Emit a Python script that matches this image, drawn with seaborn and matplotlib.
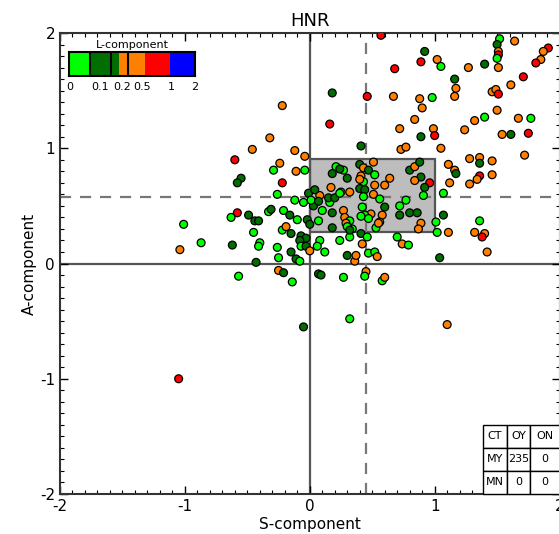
import matplotlib
matplotlib.use('Agg')
import matplotlib.pyplot as plt
import seaborn as sns
import pandas as pd
from matplotlib.patches import Rectangle
from matplotlib.ticker import MultipleLocator

# ---------------- data ----------------
s_comp = [0.57,1.52,1.50,1.64,1.51,1.51,1.50,1.51,1.91,1.87,1.85,1.81,0.92,1.02,1.05,0.89,0.68,1.27,1.40,1.16,
          1.17,1.16,1.71,1.61,1.46,1.49,1.51,0.67,0.88,0.98,0.90,1.50,0.84,1.32,1.40,1.67,1.77,0.72,0.99,1.00,
          0.89,1.24,1.54,1.61,1.75,0.73,0.77,1.05,1.72,1.28,1.36,1.36,1.46,1.11,1.16,1.17,1.36,1.34,1.46,1.12,1.28,
          0.18,0.46,-0.22,0.16,-0.32,-0.46,-0.12,0.41,-0.04,-0.60,
          0.96,1.07,1.07,1.01,1.02,1.11,1.36,1.32,1.40,1.38,1.42,1.04,
          -0.24,-0.29,-0.11,-0.22,-0.26,-0.12,-0.21,-0.10,-0.16,-0.22,-0.19,-0.15,
          -0.55,-0.58,-0.58,-0.63,-0.49,-0.44,-0.41,-0.33,-0.31,-1.01,-0.45,-0.40,-0.41,-0.87,-1.04,-0.62,
          -0.07,-0.03,-0.08,-0.07,-0.26,-0.03,0.00,-0.25,-0.15,-0.11,-0.08,0.08,0.06,0.12,
          -0.25,-0.21,-0.14,0.07,0.09,0.27,0.45,0.44,0.58,0.60,0.32,-0.05,1.10,-0.43,-0.57,-1.05,
          0.53,0.34,0.41,0.46,0.32,0.24,0.42,0.70,0.74,0.79,0.30,0.47,0.52,0.54,0.36,0.37,
          0.21,0.40,0.51,0.27,0.18,0.43,0.47,0.52,0.41,0.64,0.52,0.60,0.43,0.40,0.17,0.25,0.32,
          0.80,0.84,0.88,0.89,0.84,0.92,0.91,0.51,0.44,0.43,0.56,0.60,0.42,0.49,0.44,0.47,0.58,0.56,0.55,0.77,
          0.72,0.72,0.80,0.86,0.89,0.87,
          0.27,0.18,0.10,0.07,0.28,0.32,0.29,-0.04,-0.01,-0.05,0.08,0.03,-0.02,0.01,0.04,
          0.07,0.00,0.16,0.15,0.20,0.24,0.24,0.30,0.40,
          0.30,0.32,0.41,0.18]

a_comp = [1.98,1.95,1.90,1.93,1.84,1.81,1.78,1.70,1.87,1.84,1.77,1.74,1.84,1.77,1.71,1.75,1.69,1.70,1.73,1.60,
          1.52,1.45,1.62,1.55,1.49,1.51,1.47,1.45,1.43,1.44,1.35,1.33,1.25,1.24,1.27,1.26,1.26,1.17,1.17,1.11,
          1.10,1.16,1.12,1.12,1.13,0.99,1.01,1.00,0.94,0.91,0.92,0.87,0.89,0.86,0.81,0.78,0.76,0.73,0.77,0.70,0.69,
          1.48,1.45,1.37,1.21,1.09,0.99,0.98,1.02,0.93,0.90,
          0.70,0.61,0.42,0.36,0.27,0.27,0.37,0.27,0.26,0.23,0.10,0.05,
          0.87,0.81,0.80,0.70,0.60,0.55,0.46,0.38,0.42,0.29,0.32,0.26,
          0.74,0.70,0.44,0.40,0.42,0.37,0.37,0.45,0.47,0.34,0.27,0.18,0.15,0.18,0.12,0.16,
          0.24,0.22,0.20,0.15,0.14,0.15,0.11,0.05,0.10,0.04,0.02,0.20,0.15,0.10,
          -0.06,-0.08,-0.16,-0.09,-0.10,-0.12,-0.07,-0.11,-0.15,-0.12,-0.48,-0.55,-0.53,0.01,-0.11,-1.00,
          0.31,0.30,0.26,0.23,0.23,0.20,0.17,0.23,0.17,0.16,0.07,0.09,0.10,0.06,0.02,0.07,
          0.84,0.86,0.88,0.81,0.78,0.83,0.81,0.77,0.76,0.74,0.68,0.68,0.71,0.65,0.66,0.62,0.62,
          0.81,0.84,0.88,0.75,0.72,0.66,0.59,0.60,0.64,0.58,0.56,0.49,0.49,0.43,0.42,0.39,0.42,0.36,0.35,0.55,
          0.50,0.42,0.44,0.44,0.35,0.30,
          0.46,0.44,0.46,0.37,0.40,0.37,0.35,0.81,0.61,0.53,0.59,0.50,0.38,0.55,0.64,
          0.54,0.34,0.53,0.57,0.57,0.61,0.82,0.74,0.73,
          0.32,0.29,0.41,0.31]

# L-component class of each point: L = 0-0.1, D = 0.1-0.2, O = 0.2-0.5, R = 0.5-1
l_class = ("RLDOORLOROORDOLRRODDOOROOOROOLOOOOLOLOORDOODROOOOOODOOODROOOO"
           "DROROOODOR"
           "RLDLLOLOOROD"
           "OLORLLLLDLOD"
           "DDRLDDDLDLLLLLOD"
           "DDDLLDOLDDLLLL"
           "ODLDDLOLLOLDODLR"
           "LLDLLLOLOLDLLOOO"
           "LDOLDODLOOOOLDOOO"
           "DODDODLODLLDLOLLOOOLLDDDOO"
           "ODLLOLOLDLODDLD"
           "DDLDDLDDO"
           "LDLD")

class_names = {'L': '0-0.1', 'D': '0.1-0.2', 'O': '0.2-0.5', 'R': '0.5-1'}
palette = {'0-0.1': '#00ff00', '0.1-0.2': '#006e00', '0.2-0.5': '#ff8000', '0.5-1': '#ff0000'}

cbar_labels = ['0', '0.1', '0.2', '0.5', '1', '2']
cbar_colors = ['#00ff00', '#006e00', '#ff8000', '#ff0000', '#0000ff']

table_header = ['CT', 'OY', 'ON']
table_row_my = ['MY', '235', '0']
table_row_mn = ['MN', '0', '0']

s_split = 0.45
a_split = 0.577
box_s = [0.0, 1.0]
box_a = [0.27, 0.91]

# ---------------- figure ----------------
plt.rcParams['axes.unicode_minus'] = False
plt.rcParams['font.family'] = ['DejaVu Sans']

df = pd.DataFrame({'S': s_comp, 'A': a_comp,
                   'L': [class_names[c] for c in l_class]})

fig = plt.figure(figsize=(5.59, 5.34), dpi=100)
ax = fig.add_axes([0.1073, 0.0749, 0.8937, 0.8633])

ax.add_patch(Rectangle((box_s[0], box_a[0]), box_s[1] - box_s[0], box_a[1] - box_a[0],
                       facecolor='#bdbdbd', edgecolor='#555555', lw=1.6, zorder=1))
ax.axvline(0, color='#555555', lw=1.6, zorder=1.5)
ax.axhline(0, color='#555555', lw=1.6, zorder=1.5)
ax.axvline(s_split, color='#777777', lw=1.6, ls=(0, (5, 4)), zorder=1.6)
ax.axhline(a_split, color='#777777', lw=1.6, ls=(0, (5, 4)), zorder=1.6)

sns.scatterplot(data=df, x='S', y='A', hue='L', palette=palette, legend=False,
                s=32, edgecolor='black', linewidth=0.9, ax=ax, zorder=3)

ax.set_xlim(-2, 2)
ax.set_ylim(-2, 2)
ax.set_xticks([-2, -1, 0, 1, 2])
ax.set_yticks([-2, -1, 0, 1, 2])
ax.xaxis.set_minor_locator(MultipleLocator(0.1))
ax.yaxis.set_minor_locator(MultipleLocator(0.1))
ax.tick_params(which='both', direction='in', top=True, right=True, labelsize=11)
ax.tick_params(which='major', length=6, width=1)
ax.tick_params(which='minor', length=3, width=0.8)
for sp in ax.spines.values():
    sp.set_linewidth(1.5)
    sp.set_color('#333333')
ax.set_title('HNR', fontsize=13, pad=5)
ax.set_xlabel('S-component', fontsize=11, labelpad=2)
ax.set_ylabel('A-component', fontsize=11, labelpad=2)

# table
tb = ax.table(cellText=[table_header, table_row_my, table_row_mn], cellLoc='center',
              bbox=[0.847, 0.0, 0.153, 0.15], zorder=5)
tb.auto_set_font_size(False)
tb.set_fontsize(8)
widths = [0.048, 0.046, 0.059]
for (r, c), cell in tb.get_celld().items():
    cell.set_width(widths[c])
    cell.set_linewidth(1.0)
    cell.set_facecolor('white')

# L-component colour legend
axl = fig.add_axes([0.1234, 0.8577, 0.2254, 0.0449])
edges = [0.0, 0.17, 0.40, 0.60, 0.80, 1.0]
for i, col in enumerate(cbar_colors):
    axl.axvspan(edges[i], edges[i + 1], color=col, lw=0)
for xs in [0.17, 0.33, 0.47]:
    axl.axvline(xs, color='black', lw=1.5)
axl.set_xlim(0, 1)
axl.set_ylim(0, 1)
axl.set_yticks([])
axl.set_xticks([0.01, 0.25, 0.42, 0.58, 0.81, 1.0])
axl.set_xticklabels(cbar_labels, fontsize=8)
axl.tick_params(length=0, pad=4)
for sp in axl.spines.values():
    sp.set_linewidth(1.5)
axl.set_title('L-component', fontsize=8, pad=3)

fig.savefig('out.png', dpi=100)
